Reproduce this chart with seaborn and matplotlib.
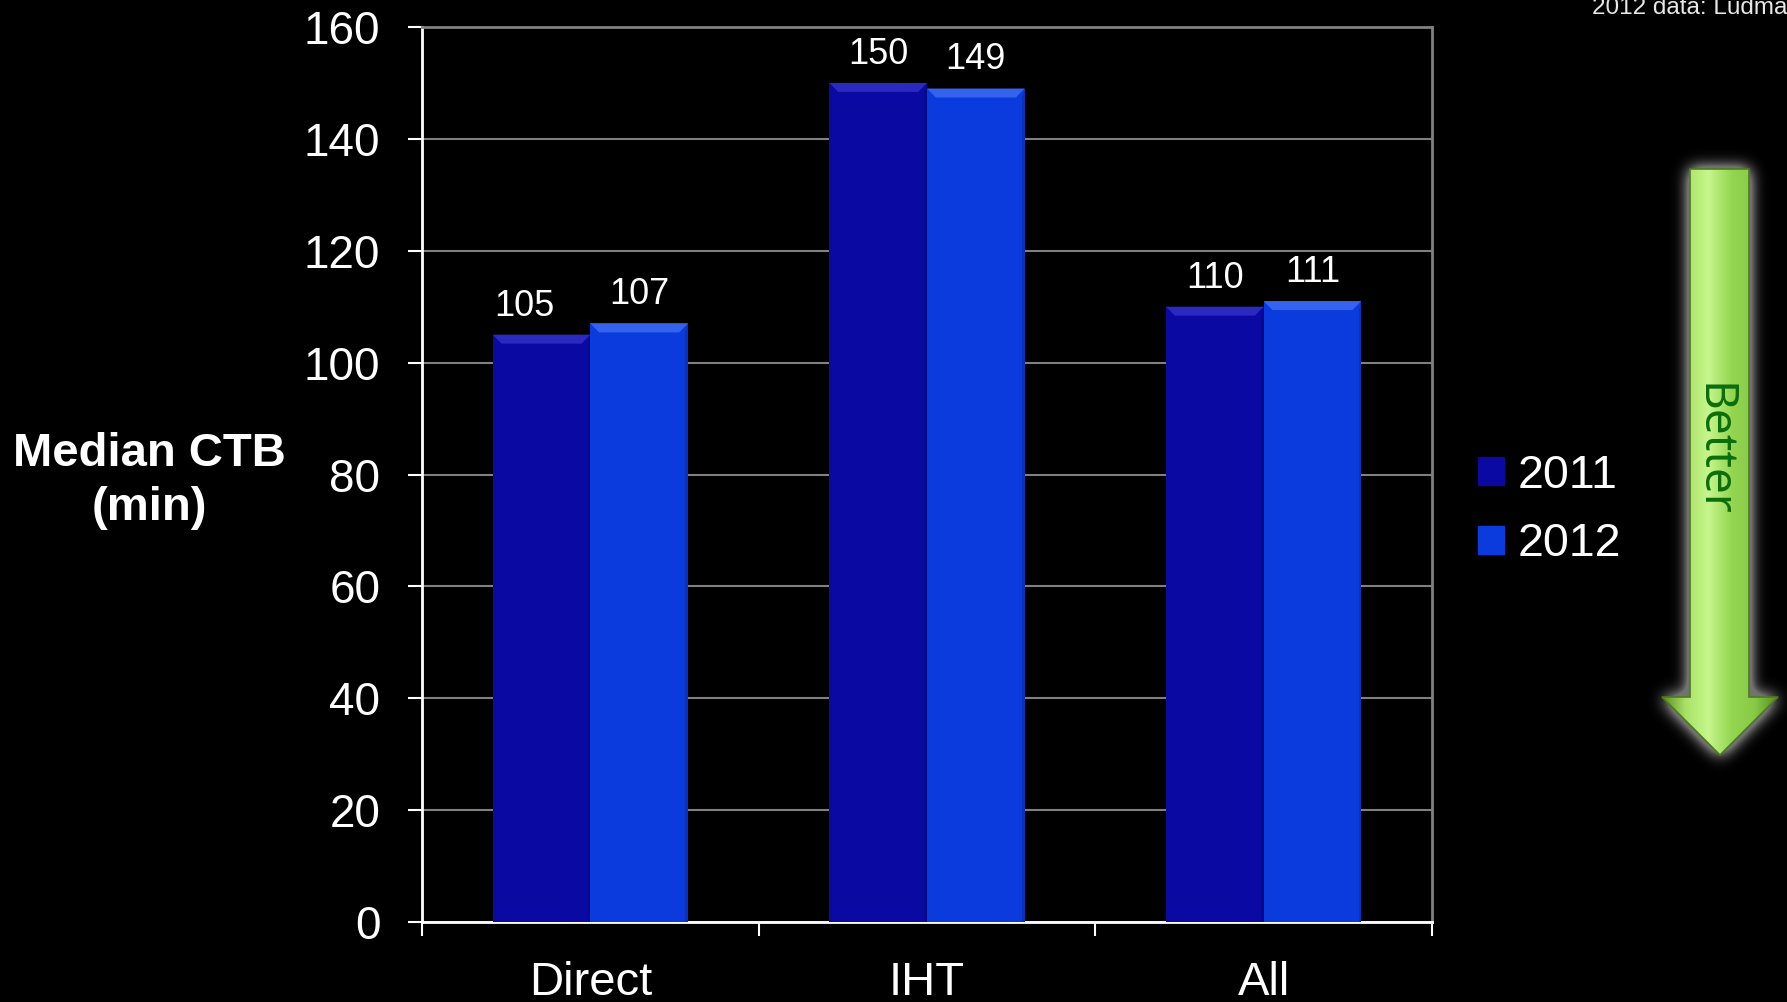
import numpy as np
import pandas as pd
import matplotlib
matplotlib.use("Agg")
import matplotlib.pyplot as plt
from matplotlib.patches import Polygon
from matplotlib.path import Path
from matplotlib.colors import LinearSegmentedColormap
import seaborn as sns

# data
categories = ["Direct", "IHT", "All"]
years = ["2011", "2012"]
ctb_2011 = [105, 150, 110]
ctb_2012 = [107, 149, 111]
ytick_vals = [0, 20, 40, 60, 80, 100, 120, 140, 160]

bar_colors = ["#0a0aa2", "#0b3bdc"]
bevel_colors = ["#2a2ac0", "#3563ee"]

df = pd.DataFrame({
    "cat": categories * 2,
    "year": [years[0]] * 3 + [years[1]] * 3,
    "ctb": ctb_2011 + ctb_2012,
})

sns.set_style("dark")
plt.rcParams["font.family"] = ["Liberation Sans", "DejaVu Sans"]

W, H = 1787, 1002
fig = plt.figure(figsize=(W / 100, H / 100), dpi=100, facecolor="black")
ax = fig.add_axes([422 / W, 1 - 922 / H, (1432 - 422) / W, (922 - 27) / H])
ax.set_facecolor("black")

sns.barplot(data=df, x="cat", y="ctb", hue="year", palette=bar_colors,
            width=0.58, gap=0, saturation=1, ax=ax, legend=False,
            edgecolor="none", zorder=3)

ax.set_ylim(0, 160)
ax.set_xlim(-0.5, 2.5)
ax.set_yticks(ytick_vals)
ax.set_yticklabels([str(v) for v in ytick_vals])
ax.grid(axis="y", color="#808080", lw=1.5, zorder=0)
ax.grid(axis="x", visible=False)
ax.set_axisbelow(True)

for s in ["left", "bottom"]:
    ax.spines[s].set_color("white")
    ax.spines[s].set_linewidth(2)
for s in ["top", "right"]:
    ax.spines[s].set_color("#808080")
    ax.spines[s].set_linewidth(2)
    ax.spines[s].set_visible(True)

ax.tick_params(axis="y", colors="white", labelsize=33, length=10, width=1.5,
               direction="out", pad=20, left=True)
ax.tick_params(axis="x", which="major", colors="white", labelsize=34, length=0, pad=28)
ax.set_xticks([-0.5, 0.5, 1.5, 2.5], minor=True)
ax.tick_params(axis="x", which="minor", color="white", length=10, width=1.5,
               direction="out", bottom=True)
ax.set_xlabel("")
ax.set_ylabel("Median CTB\n(min)", rotation=0, color="white", fontsize=34,
              fontweight="bold", ha="center", va="center", linespacing=1.3)
ax.yaxis.set_label_coords((149 - 422) / (1432 - 422), 0.493)

# bevel on top of each bar + value labels
for i, (cont, bc) in enumerate(zip(ax.containers, bevel_colors)):
    for p in cont.patches:
        x0 = p.get_x()
        x1 = x0 + p.get_width()
        top = p.get_height()
        d = p.get_width() * 0.09
        h = 1.6
        ax.add_patch(Polygon([(x0, top), (x1, top), (x1 - d, top - h), (x0 + d, top - h)],
                             closed=True, color=bc, zorder=4, lw=0))
        ax.add_patch(Polygon([(x1, top), (x1, 0), (x1 - d * 0.3, 0), (x1 - d * 0.3, top - h)],
                             closed=True, color="black", alpha=0.15, zorder=4, lw=0))
    labels = ax.bar_label(cont, padding=8, color="white", fontsize=26)
    if i == 0:
        labels[0].xyann = (-12, 8)

# legend
handles = [plt.Rectangle((0, 0), 1, 1, color=c) for c in bar_colors]
ax.legend(handles, years, loc="center left", bbox_to_anchor=(1478 / W, 1 - 510 / H),
          bbox_transform=fig.transFigure, frameon=False, fontsize=33.5,
          labelcolor="white", handlelength=0.55, handleheight=0.55,
          handletextpad=0.3, labelspacing=0.53, borderpad=0, borderaxespad=0)

# "Better" arrow with soft glow
aax = fig.add_axes([1630 / W, 1 - 800 / H, 170 / W, 680 / H])
aax.set_xlim(1630, 1800)
aax.set_ylim(800, 120)
aax.axis("off")
arrow_pts = [(1690, 169), (1749, 169), (1749, 697), (1778, 697),
             (1720, 755), (1662, 697), (1690, 697)]

gx, gy = np.meshgrid(np.arange(1630, 1800) + 0.5, np.arange(120, 800) + 0.5)
mask = Path(arrow_pts).contains_points(np.c_[gx.ravel(), gy.ravel()]).reshape(gx.shape).astype(float)
k = np.exp(-0.5 * (np.arange(-30, 31) / 8.0) ** 2)
k /= k.sum()
blur = np.apply_along_axis(lambda r: np.convolve(r, k, mode="same"), 1, mask)
blur = np.apply_along_axis(lambda c: np.convolve(c, k, mode="same"), 0, blur)
glow = np.zeros(mask.shape + (4,))
glow[..., :3] = 0.45
glow[..., 3] = np.clip(blur * 2.6, 0, 1)
aax.imshow(glow, extent=(1630, 1800, 800, 120), aspect="auto", zorder=1,
           interpolation="bilinear")

green = LinearSegmentedColormap.from_list(
    "g", ["#5a8a22", "#a8e266", "#c6f68c", "#94d652", "#88ca47", "#5a8a22"])
grad = np.tile(np.linspace(0, 1, 200), (10, 1))
im = aax.imshow(grad, cmap=green, extent=(1662, 1778, 755, 169), aspect="auto", zorder=2)
clip = Polygon(arrow_pts, closed=True, transform=aax.transData, facecolor="none",
               edgecolor="#4e7a1e", lw=1.2, zorder=3)
aax.add_patch(clip)
im.set_clip_path(clip)
aax.text(1712, 450, "Better", rotation=-90, color="#0b6e0b", fontsize=33,
         ha="center", va="center", zorder=5, family=["Noto Sans", "DejaVu Sans"])

fig.text(1592 / W, 1 - 14 / H, "2012 data: Ludman et al.", color="#e8e8e8",
         fontsize=17.5, ha="left", va="baseline")

fig.savefig("out.png", dpi=100, facecolor="black")
